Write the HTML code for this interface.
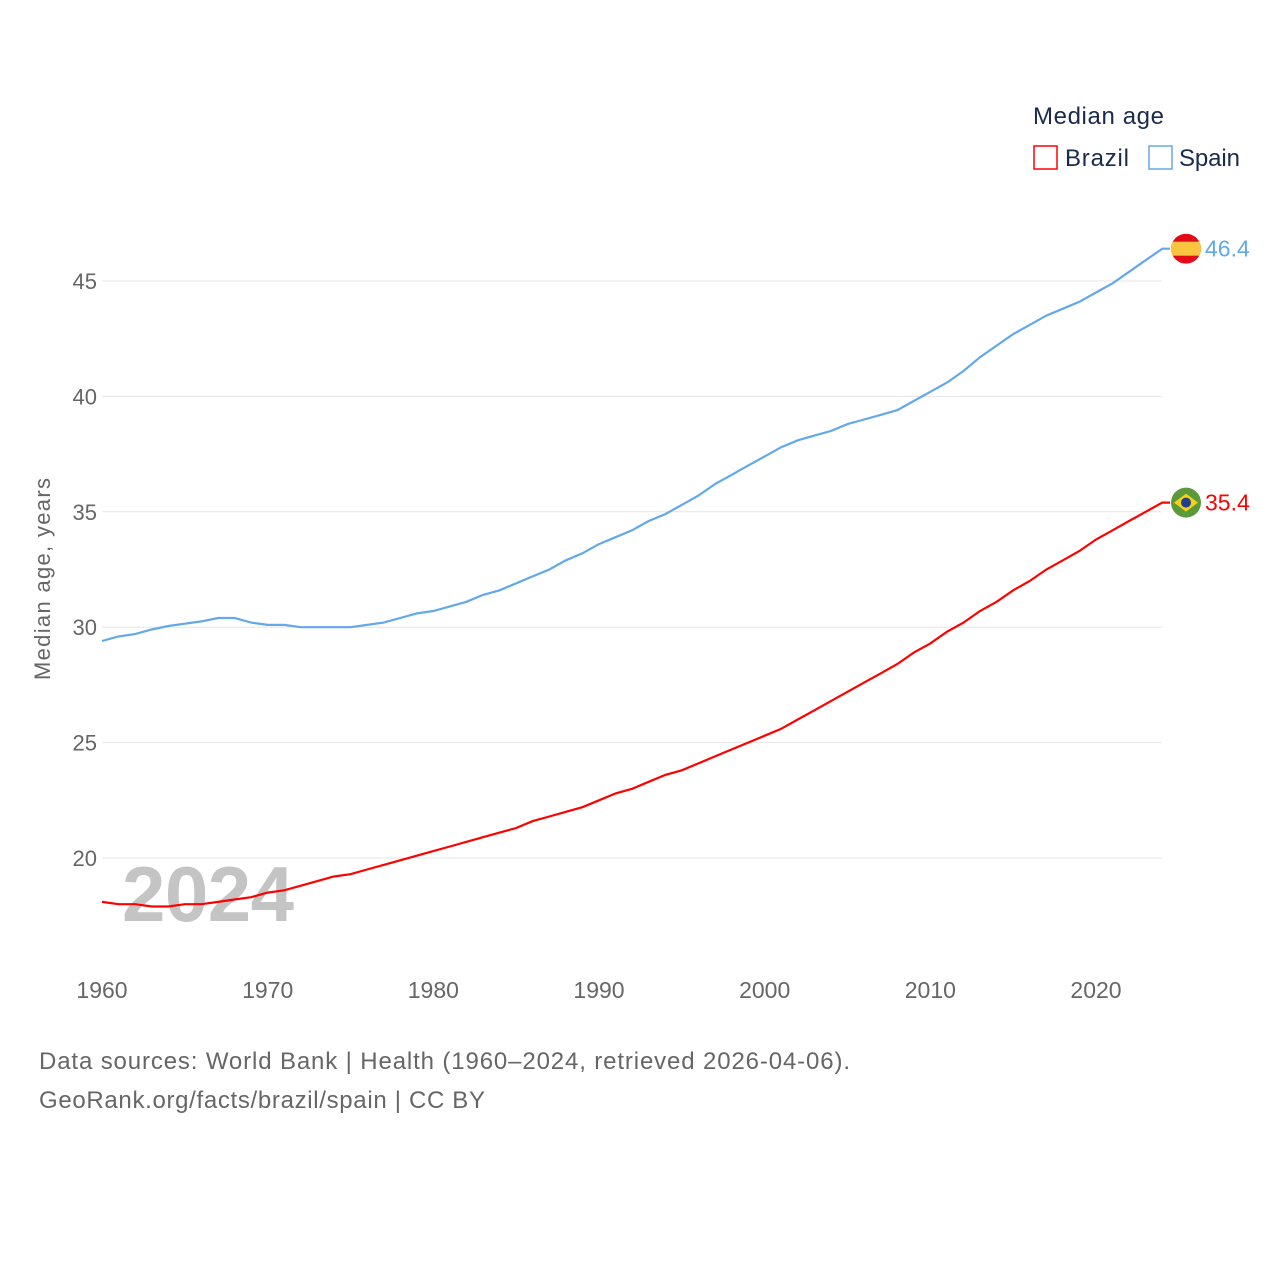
<!DOCTYPE html>
<html><head><meta charset="utf-8"><style>
body{margin:0;background:#fff;font-family:"Liberation Sans",sans-serif;}
svg text{font-family:"Liberation Sans",sans-serif;}
</style></head><body>
<svg id="chart" width="1280" height="1280">
</svg>
<script>
const years=[];for(let y=1960;y<=2024;y++)years.push(y);
const spain=[29.4,29.6,29.7,29.9,30.05,30.15,30.25,30.4,30.4,30.2,30.1,30.1,30.0,30.0,30.0,30.0,30.1,30.2,30.4,30.6,30.7,30.9,31.1,31.4,31.6,31.9,32.2,32.5,32.9,33.2,33.6,33.9,34.2,34.6,34.9,35.3,35.7,36.2,36.6,37.0,37.4,37.8,38.1,38.3,38.5,38.8,39.0,39.2,39.4,39.8,40.2,40.6,41.1,41.7,42.2,42.7,43.1,43.5,43.8,44.1,44.5,44.9,45.4,45.9,46.4];
const brazil=[18.1,18.0,18.0,17.9,17.9,18.0,18.0,18.1,18.2,18.3,18.5,18.6,18.8,19.0,19.2,19.3,19.5,19.7,19.9,20.1,20.3,20.5,20.7,20.9,21.1,21.3,21.6,21.8,22.0,22.2,22.5,22.8,23.0,23.3,23.6,23.8,24.1,24.4,24.7,25.0,25.3,25.6,26.0,26.4,26.8,27.2,27.6,28.0,28.4,28.9,29.3,29.8,30.2,30.7,31.1,31.6,32.0,32.5,32.9,33.3,33.8,34.2,34.6,35.0,35.4];
const yTicks=[20,25,30,35,40,45];
const xTicks=[1960,1970,1980,1990,2000,2010,2020];
const NS="http://www.w3.org/2000/svg";
const svg=document.getElementById('chart');
const X=v=>102+(v-1960)*(1096-102)/60;
const Y=v=>858-(v-20)*(858-281)/25;
function el(t,a,txt){const e=document.createElementNS(NS,t);for(const k in a)e.setAttribute(k,a[k]);if(txt!==undefined)e.textContent=txt;svg.appendChild(e);return e;}
yTicks.forEach(v=>{
 const g=el('line',{x1:102,x2:1162,y1:Y(v),y2:Y(v),stroke:'#e6e6e6','stroke-width':1});
 
 
 const t=el('text',{x:97,y:Y(v)+8,'text-anchor':'end','font-size':22,fill:'#666'},v);
 
 
});
xTicks.forEach(v=>{
 const t=el('text',{x:X(v),y:998,'text-anchor':'middle','font-size':23,fill:'#666'},v);
 
 
});
const yt=el('text',{x:0,y:0,transform:'translate(50,579) rotate(-90)','text-anchor':'middle','font-size':22,fill:'#666',textLength:202},'Median age, years');


const yr=el('text',{x:122,y:921,'font-size':78,'font-weight':'bold',fill:'#c4c4c4',textLength:172},'2024');


function line(data,color,name){
 let d=years.map((y,i)=>(i?'L':'M')+X(y).toFixed(1)+','+Y(data[i]).toFixed(1)).join(' ');
 d+=' L1170,'+Y(data[data.length-1]).toFixed(1);
 const p=el('path',{d:d,fill:'none',stroke:color,'stroke-width':2.2});
 
 
}
line(spain,'#62a8ea','spain-line');
line(brazil,'#ff0000','brazil-line');
const ys=Y(spain[spain.length-1]), yb=Y(brazil[brazil.length-1]);
const fs=el('g',{});
fs.innerHTML=`<clipPath id="cs"><circle cx="1186" cy="${ys}" r="15"/></clipPath><g clip-path="url(#cs)"><rect x="1170" y="${ys-15}" width="32" height="30" fill="#e30a17"/><rect x="1170" y="${ys-7}" width="32" height="14" fill="#f9c440"/></g>`;
const fb=el('g',{});
fb.innerHTML=`<circle cx="1186" cy="${yb}" r="15" fill="#5b9a3a"/><polygon points="1174,${yb} 1186,${yb-9} 1198,${yb} 1186,${yb+9}" fill="#f7d116"/><circle cx="1186" cy="${yb}" r="5" fill="#1f3f8f"/>`;
const ls=el('text',{x:1205,y:ys+8,'font-size':23,fill:'#62a8ea'},spain[spain.length-1].toFixed(1));

const lb=el('text',{x:1205,y:yb+8,'font-size':23,fill:'#ff0000'},brazil[brazil.length-1].toFixed(1));

const lt=el('text',{x:1033,y:124,'font-size':24,fill:'#1a2a4a',textLength:131},'Median age');

const lr1=el('rect',{x:1034,y:146,width:23,height:23,fill:'none',stroke:'#ff0000','stroke-width':1.5});

const lt1=el('text',{x:1065,y:166,'font-size':24,fill:'#1a2a4a',textLength:64},'Brazil');

const lr2=el('rect',{x:1149,y:146,width:23,height:23,fill:'none',stroke:'#62a8ea','stroke-width':1.5});

const lt2=el('text',{x:1179,y:166,'font-size':24,fill:'#1a2a4a',textLength:61},'Spain');

const s1=el('text',{x:39,y:1069,'font-size':24,fill:'#666',textLength:811},'Data sources: World Bank | Health (1960–2024, retrieved 2026-04-06).');

const s2=el('text',{x:39,y:1108,'font-size':24,fill:'#666',textLength:446},'GeoRank.org/facts/brazil/spain | CC BY');

</script>
</body></html>
